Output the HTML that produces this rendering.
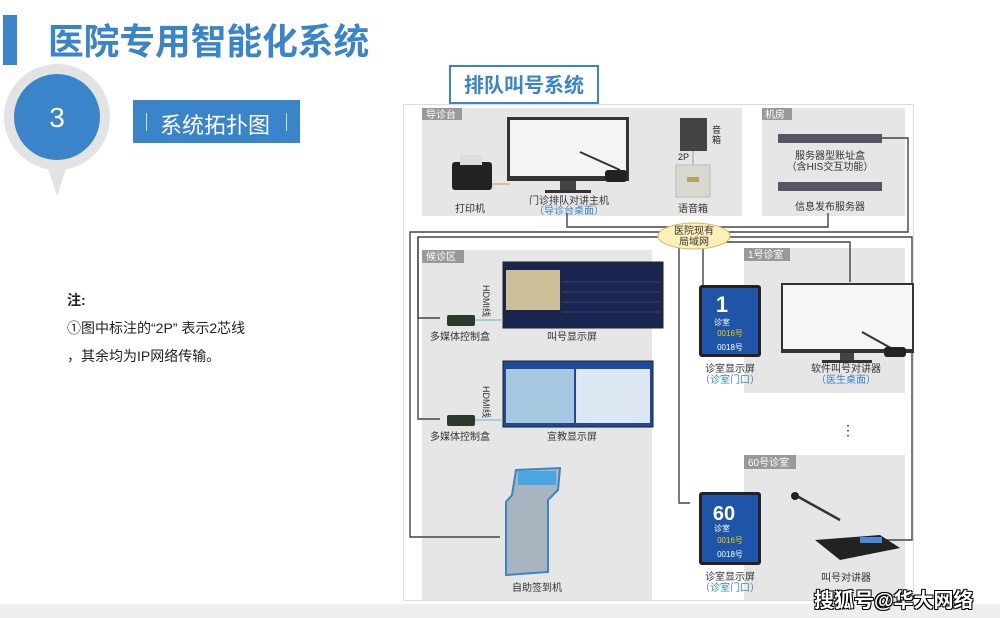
<!DOCTYPE html>
<html><head><meta charset="utf-8">
<style>
html,body{margin:0;padding:0;background:#fff;}
body{width:1000px;height:618px;position:relative;overflow:hidden;font-family:"Liberation Sans","Noto Sans CJK SC",sans-serif;}
.a{position:absolute;}
</style></head><body>
<div class="a" style="left:3px;top:15px;width:14px;height:50px;background:#3a84c9"></div>
<div class="a" style="left:48px;top:14px;font-size:35.7px;font-weight:bold;color:#3a84c9;letter-spacing:0px;white-space:nowrap">医院专用智能化系统</div>
<svg class="a" style="left:0;top:60px" width="120" height="140"><circle cx="57" cy="57" r="53" fill="#e3e3e3"/><polygon points="45,100 69,100 57,136" fill="#e3e3e3"/><circle cx="57" cy="57" r="43" fill="#3a84c9"/><text x="57" y="67" font-size="28" fill="#fff" text-anchor="middle" font-family="Liberation Sans">3</text></svg>
<div class="a" style="left:133px;top:100px;width:167px;height:43px;background:#3a84c9"></div>
<div class="a" style="left:146px;top:113px;width:1px;height:18px;background:#cfe0f2"></div>
<div class="a" style="left:286px;top:113px;width:1px;height:18px;background:#cfe0f2"></div>
<div class="a" style="left:160px;top:108px;font-size:22px;color:#fff;white-space:nowrap">系统拓扑图</div>
<div class="a" style="left:67px;top:290px;font-size:14px;font-weight:bold;color:#222">注:</div>
<div class="a" style="left:67px;top:318px;font-size:14px;color:#222;white-space:nowrap">①图中标注的“2P” 表示2芯线</div>
<div class="a" style="left:67px;top:346px;font-size:14px;color:#222;white-space:nowrap">，其余均为IP网络传输。</div>

<svg class="a" style="left:0;top:0" width="1000" height="618" font-family="Liberation Sans, Noto Sans CJK SC, sans-serif">
<rect x="450" y="66" width="148" height="37" fill="#fff" stroke="#3a84c9" stroke-width="2"/>
<text x="524" y="92" font-size="20" font-weight="bold" fill="#3a84c9" text-anchor="middle">排队叫号系统</text>
<rect x="403.5" y="104.5" width="510" height="496" fill="#fff" stroke="#ddd"/>
<rect x="422" y="108" width="320" height="108" fill="#e6e6e6"/>
<rect x="762" y="108" width="143" height="108" fill="#e6e6e6"/>
<rect x="422" y="250" width="230" height="350" fill="#e6e6e6"/>
<rect x="744" y="248" width="161" height="145" fill="#e6e6e6"/>
<rect x="744" y="455" width="161" height="145" fill="#e6e6e6"/>
<g font-size="10" fill="#fff"><rect x="422" y="108" width="40" height="12" fill="#999"/><text x="426" y="118">导诊台</text>
<rect x="762" y="108" width="30" height="12" fill="#999"/><text x="765" y="118">机房</text>
<rect x="422" y="250" width="42" height="13" fill="#999"/><text x="426" y="260">候诊区</text>
<rect x="744" y="248" width="46" height="13" fill="#999"/><text x="748" y="258">1号诊室</text>
<rect x="744" y="455" width="52" height="14" fill="#999"/><text x="748" y="466">60号诊室</text></g>
<g fill="none" stroke="#444" stroke-width="1.4">
<polyline points="567,213 567,227 828,227 828,213"/>
<polyline points="882,138 908,138 908,232 410,232 410,537 500,537"/>
<polyline points="440,318 418,318 418,237 912,237 912,540 880,540"/>
<polyline points="418,237 418,419 440,419"/>
<polyline points="679,237 679,503 690,503"/>
<polyline points="703,247 703,285"/>
<polyline points="703,242 850,242 850,282"/>
</g>
<ellipse cx="694" cy="236" rx="36" ry="13" fill="#fbf0b8" stroke="#d8b860"/>
<text x="694" y="234" font-size="10" text-anchor="middle" fill="#333">医院现有</text>
<text x="694" y="245" font-size="10" text-anchor="middle" fill="#333">局域网</text>
<rect x="452" y="162" width="40" height="28" rx="3" fill="#222"/><rect x="460" y="155" width="22" height="10" fill="#ddd"/>
<line x1="492" y1="184" x2="510" y2="184" stroke="#c9a050"/>
<text x="470" y="212" font-size="10" text-anchor="middle" fill="#333">打印机</text>
<rect x="507" y="117" width="122" height="64" fill="#333"/><rect x="510" y="120" width="116" height="56" fill="#f4f4f4"/>
<rect x="560" y="181" width="16" height="10" fill="#444"/><rect x="545" y="190" width="46" height="3" fill="#333"/>
<path d="M580 152 L620 170" stroke="#333" stroke-width="2"/><rect x="605" y="170" width="22" height="12" rx="3" fill="#222"/>
<text x="569" y="204" font-size="10" text-anchor="middle" fill="#333">门诊排队对讲主机</text>
<text x="569" y="214" font-size="10" text-anchor="middle" fill="#3a84c9">（导诊台桌面）</text>
<rect x="680" y="118" width="27" height="33" fill="#444"/><text x="712" y="133" font-size="9" fill="#222">音</text><text x="712" y="143" font-size="9" fill="#222">箱</text>
<line x1="693" y1="151" x2="693" y2="165" stroke="#7ab"/><text x="678" y="160" font-size="9" fill="#222">2P</text>
<rect x="676" y="165" width="34" height="32" fill="#d8d8d0" stroke="#bbb"/><rect x="687" y="177" width="12" height="5" fill="#b9a060"/>
<text x="693" y="212" font-size="10" text-anchor="middle" fill="#333">语音箱</text>
<rect x="778" y="134" width="104" height="9" fill="#556"/><rect x="778" y="182" width="104" height="9" fill="#556"/>
<text x="830" y="159" font-size="10" text-anchor="middle" fill="#333">服务器型账址盒</text>
<text x="830" y="170" font-size="10" text-anchor="middle" fill="#333">（含HIS交互功能）</text>
<text x="830" y="210" font-size="10" text-anchor="middle" fill="#333">信息发布服务器</text>
<rect x="503" y="262" width="160" height="66" fill="#1a2650" stroke="#222"/><rect x="506" y="270" width="54" height="40" fill="#cdbf98"/>
<g stroke="#3b4a80" stroke-width="0.7"><line x1="562" y1="282" x2="660" y2="282"/><line x1="562" y1="292" x2="660" y2="292"/><line x1="562" y1="302" x2="660" y2="302"/><line x1="562" y1="312" x2="660" y2="312"/></g>
<rect x="447" y="315" width="28" height="11" rx="2" fill="#2b3a2b"/><line x1="475" y1="320" x2="503" y2="320" stroke="#6bc"/>
<text x="483" y="285" font-size="9" fill="#333" transform="rotate(90 483 285)">HDMI线</text>
<text x="460" y="340" font-size="10" text-anchor="middle" fill="#333">多媒体控制盒</text>
<text x="572" y="340" font-size="10" text-anchor="middle" fill="#333">叫号显示屏</text>
<rect x="503" y="361" width="150" height="66" fill="#1e4a9a" stroke="#222"/><rect x="506" y="369" width="68" height="54" fill="#a8c8e0"/><rect x="576" y="369" width="74" height="54" fill="#dde8f4"/>
<rect x="447" y="415" width="28" height="11" rx="2" fill="#2b3a2b"/><line x1="475" y1="420" x2="503" y2="420" stroke="#6bc"/>
<text x="483" y="386" font-size="9" fill="#333" transform="rotate(90 483 386)">HDMI线</text>
<text x="460" y="440" font-size="10" text-anchor="middle" fill="#333">多媒体控制盒</text>
<text x="572" y="440" font-size="10" text-anchor="middle" fill="#333">宣教显示屏</text>
<path d="M516 470 L560 468 L558 490 L548 500 L548 572 L506 575 L506 502 L512 495 Z" fill="#a8b4c0" stroke="#3a84c9" stroke-width="2"/><rect x="518" y="471" width="38" height="14" fill="#4aa6e0"/>
<text x="537" y="591" font-size="10" text-anchor="middle" fill="#333">自助签到机</text>
<rect x="699" y="285" width="62" height="72" rx="3" fill="#222"/><rect x="702" y="288" width="56" height="66" fill="#1f55a8"/>
<text x="722" y="312" font-size="22" font-weight="bold" fill="#fff" text-anchor="middle">1</text><text x="722" y="325" font-size="8" fill="#fff" text-anchor="middle">诊室</text>
<text x="730" y="336" font-size="8" fill="#f0d000" text-anchor="middle">0016号</text><text x="730" y="350" font-size="8" fill="#fff" text-anchor="middle">0018号</text>
<text x="730" y="372" font-size="10" text-anchor="middle" fill="#333">诊室显示屏</text><text x="730" y="383" font-size="10" text-anchor="middle" fill="#3a84c9">（诊室门口）</text>
<rect x="699" y="492" width="62" height="73" rx="3" fill="#222"/><rect x="702" y="495" width="56" height="67" fill="#1f55a8"/>
<text x="724" y="520" font-size="20" font-weight="bold" fill="#fff" text-anchor="middle">60</text><text x="722" y="531" font-size="8" fill="#fff" text-anchor="middle">诊室</text>
<text x="730" y="543" font-size="8" fill="#f0d000" text-anchor="middle">0016号</text><text x="730" y="557" font-size="8" fill="#fff" text-anchor="middle">0018号</text>
<text x="730" y="580" font-size="10" text-anchor="middle" fill="#333">诊室显示屏</text><text x="730" y="591" font-size="10" text-anchor="middle" fill="#3a84c9">（诊室门口）</text>
<rect x="781" y="283" width="133" height="70" fill="#333"/><rect x="783" y="285" width="129" height="64" fill="#f4f6f8"/>
<rect x="840" y="353" width="14" height="8" fill="#444"/><rect x="822" y="360" width="50" height="3" fill="#333"/>
<path d="M862 332 L898 352" stroke="#333" stroke-width="2"/><rect x="884" y="347" width="22" height="10" rx="3" fill="#222"/>
<text x="846" y="372" font-size="10" text-anchor="middle" fill="#333">软件叫号对讲器</text><text x="846" y="383" font-size="10" text-anchor="middle" fill="#3a84c9">（医生桌面）</text>
<text x="848" y="435" font-size="14" text-anchor="middle" fill="#333">⋮</text>
<path d="M795 495 L840 520" stroke="#333" stroke-width="2.5"/><circle cx="795" cy="496" r="4" fill="#222"/>
<path d="M815 540 L880 535 L900 548 L840 560 Z" fill="#222"/><rect x="860" y="537" width="22" height="6" fill="#4a8ad8"/>
<line x1="900" y1="540" x2="912" y2="540" stroke="#444"/>
<text x="846" y="581" font-size="10" text-anchor="middle" fill="#333">叫号对讲器</text>
</svg>
<div class="a" style="left:0;top:604px;width:1000px;height:14px;background:#eeeeee"></div>
<div class="a" style="left:814px;top:584px;font-size:20px;font-weight:bold;color:#fff;white-space:nowrap;text-shadow:-1px -1px 0 #000,1px -1px 0 #000,-1px 1px 0 #000,1px 1px 0 #000">搜狐号@华大网络</div>
</body></html>
